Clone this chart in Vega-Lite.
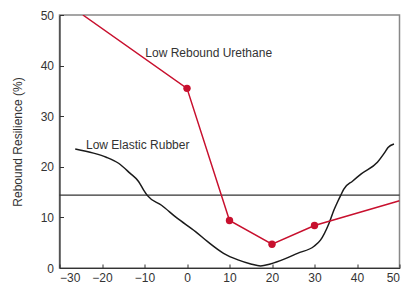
{
  "$schema": "https://vega.github.io/schema/vega-lite/v6.json",
  "width": 340,
  "height": 253,
  "autosize": "none",
  "padding": {"left": 59.5, "top": 15, "right": 3.5, "bottom": 25},
  "background": "white",
  "config": {
    "view": {"stroke": "#888888", "strokeWidth": 1.5},
    "font": "Liberation Sans",
    "axis": {"grid": false, "labelColor": "#333333", "labelFontSize": 12, "labelFont": "Liberation Sans", "titleFont": "Liberation Sans", "titleColor": "#333333", "domainColor": "#333333", "tickColor": "#333333", "domainWidth": 1.2}
  },
  "datasets": {
    "rubber": [
      {"t": -26.3, "r": 23.5}, {"t": -22.0, "r": 22.7}, {"t": -19.0, "r": 21.9}, {"t": -16.1, "r": 20.7},
      {"t": -13.5, "r": 18.8}, {"t": -11.4, "r": 17.1}, {"t": -10.2, "r": 15.4}, {"t": -9.3, "r": 14.3},
      {"t": -6.0, "r": 12.4}, {"t": -2.4, "r": 9.9}, {"t": 2.0, "r": 7.2}, {"t": 5.0, "r": 5.1},
      {"t": 8.6, "r": 2.9}, {"t": 12.0, "r": 1.6}, {"t": 15.0, "r": 0.8}, {"t": 17.3, "r": 0.4},
      {"t": 19.6, "r": 0.8}, {"t": 23.0, "r": 1.8}, {"t": 26.0, "r": 2.9}, {"t": 29.9, "r": 4.3},
      {"t": 31.4, "r": 5.5}, {"t": 33.4, "r": 8.8}, {"t": 34.6, "r": 11.5}, {"t": 35.5, "r": 13.2},
      {"t": 36.2, "r": 14.4}, {"t": 36.9, "r": 15.6}, {"t": 39.0, "r": 17.2}, {"t": 41.0, "r": 18.6},
      {"t": 44.8, "r": 20.9}, {"t": 46.5, "r": 22.8}, {"t": 47.3, "r": 23.8}, {"t": 48.7, "r": 24.5}
    ],
    "urethane": [
      {"t": -24.5, "r": 50, "pt": false}, {"t": 0, "r": 35.5, "pt": true}, {"t": 10, "r": 9.4, "pt": true},
      {"t": 20, "r": 4.7, "pt": true}, {"t": 30, "r": 8.4, "pt": true}, {"t": 50, "r": 13.3, "pt": false}
    ],
    "labels": [
      {"t": 5.1, "r": 42.5, "label": "Low Rebound Urethane"},
      {"t": -11.6, "r": 24.3, "label": "Low Elastic Rubber"}
    ]
  },
  "layer": [
    {
      "data": {"values": [{"r": 14.4}]},
      "mark": {"type": "rule", "color": "#333333", "strokeWidth": 1.2},
      "encoding": {"y": {"field": "r", "type": "quantitative", "scale": {"domain": [0, 50]}}}
    },
    {
      "data": {"name": "rubber"},
      "mark": {"type": "line", "color": "#1a1a1a", "strokeWidth": 1.5, "interpolate": "monotone", "clip": true},
      "encoding": {
        "x": {"field": "t", "type": "quantitative", "scale": {"domain": [-30, 50], "nice": false},
          "axis": {"values": [-30, -20, -10, 0, 10, 20, 30, 40, 50], "format": "d", "title": null, "tickSize": -4, "labelPadding": 8, "labelAngle": 0}},
        "y": {"field": "r", "type": "quantitative", "scale": {"domain": [0, 50], "nice": false},
          "axis": {"values": [0, 10, 20, 30, 40, 50], "title": "Rebound Resilience (%)", "titleFontSize": 12, "titleFontWeight": "normal", "titlePadding": 16, "tickSize": -4, "labelPadding": 10}}
      }
    },
    {
      "data": {"name": "urethane"},
      "mark": {"type": "line", "color": "#c8102e", "strokeWidth": 1.5, "clip": true},
      "encoding": {
        "x": {"field": "t", "type": "quantitative"},
        "y": {"field": "r", "type": "quantitative"}
      }
    },
    {
      "data": {"name": "urethane"},
      "transform": [{"filter": "datum.pt"}],
      "mark": {"type": "point", "filled": true, "color": "#c8102e", "size": 55, "opacity": 1},
      "encoding": {
        "x": {"field": "t", "type": "quantitative"},
        "y": {"field": "r", "type": "quantitative"}
      }
    },
    {
      "data": {"name": "labels"},
      "mark": {"type": "text", "font": "Liberation Sans", "fontSize": 12, "color": "#333333", "align": "center", "baseline": "middle"},
      "encoding": {
        "x": {"field": "t", "type": "quantitative"},
        "y": {"field": "r", "type": "quantitative"},
        "text": {"field": "label"}
      }
    }
  ]
}
